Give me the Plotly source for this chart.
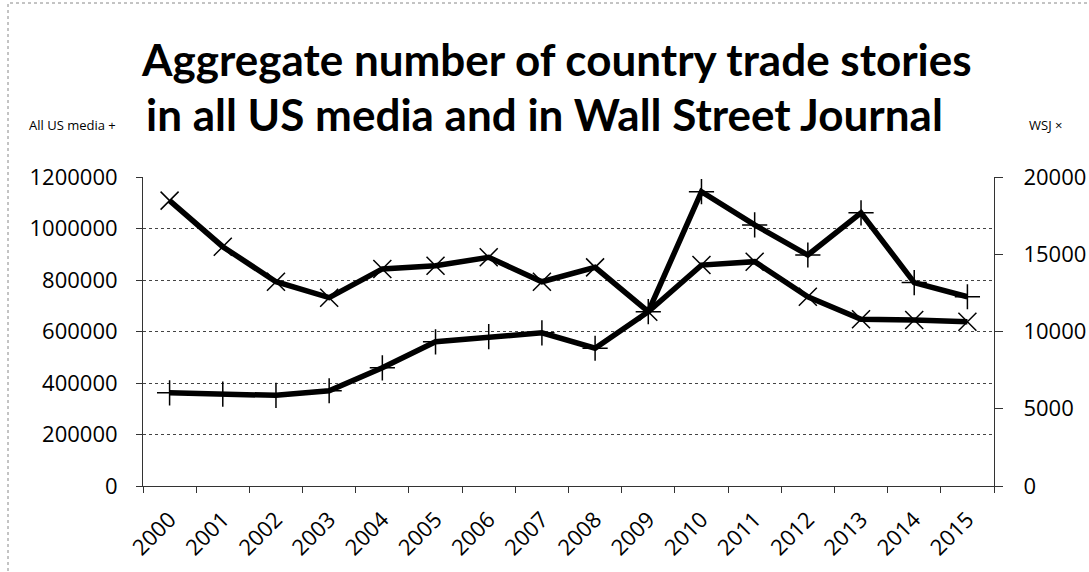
import plotly.graph_objects as go

years = ["2000", "2001", "2002", "2003", "2004", "2005", "2006", "2007",
         "2008", "2009", "2010", "2011", "2012", "2013", "2014", "2015"]
all_us_media = [362000, 357000, 352000, 370000, 459000, 560000, 580000, 595000,
                535000, 677000, 1143000, 1014000, 897000, 1061000, 790000, 735000]
wsj = [18470, 15490, 13220, 12190, 14050, 14260, 14800, 13220,
       14150, 11280, 14300, 14520, 12250, 10790, 10740, 10630]

left_ticks = [0, 200000, 400000, 600000, 800000, 1000000, 1200000]
right_ticks = [0, 5000, 10000, 15000, 20000]

title_lines = ["Aggregate number of country trade stories",
               "in all US media and in Wall Street Journal"]

W, H = 1089, 572
L, R, T, B = 143, 994, 177, 486   # plot area in pixels

def px(xp):
    return (xp - L) / (R - L)

def py(yp):
    return (B - yp) / (B - T)

fig = go.Figure()
fig.add_trace(go.Scatter(
    x=years, y=all_us_media, name="All US media", mode="lines+markers",
    line=dict(color="black", width=5.5),
    marker=dict(symbol="cross-thin-open", size=18, color="black",
                line=dict(color="black", width=1.5)),
    yaxis="y"))
fig.add_trace(go.Scatter(
    x=years, y=wsj, name="WSJ", mode="lines+markers",
    line=dict(color="black", width=5.5),
    marker=dict(symbol="x-thin-open", size=18, color="black",
                line=dict(color="black", width=1.5)),
    yaxis="y2"))

tick_font = dict(family="Open Sans", size=22, color="black")

fig.update_layout(
    width=W, height=H,
    margin=dict(l=L, r=W - R, t=T, b=H - B, autoexpand=False),
    paper_bgcolor="white", plot_bgcolor="white",
    showlegend=False,
    xaxis=dict(type="category", range=[-0.5, 15.5], tickangle=-45,
               tickfont=dict(family="Open Sans", size=22, color="black"),
               showline=True, linecolor="#333", linewidth=1,
               ticks="outside", tickson="boundaries", ticklen=6, tickcolor="#333",
               showgrid=False, zeroline=False, automargin=False,
               ticklabelstandoff=11),
    yaxis=dict(range=[0, 1200000], tickvals=left_ticks,
               ticktext=[str(v) for v in left_ticks], tickfont=tick_font,
               showline=True, linecolor="#333", linewidth=1,
               ticks="outside", ticklen=6, tickcolor="#333",
               showgrid=True, gridcolor="#444", griddash="dot", gridwidth=1,
               zeroline=False, ticklabelstandoff=14, automargin=False),
    yaxis2=dict(range=[0, 20000], tickvals=right_ticks,
                ticktext=[str(v) for v in right_ticks], tickfont=tick_font,
                overlaying="y", side="right",
                showline=True, linecolor="#333", linewidth=1,
                ticks="outside", ticklen=8, tickcolor="#333",
                showgrid=False, zeroline=False, ticklabelstandoff=16,
                automargin=False),
)

title_font = dict(family="Lato", size=44, color="black", weight="bold")
fig.add_annotation(text=title_lines[0], xref="paper", yref="paper",
                   x=px(556), y=py(87), xanchor="center", yanchor="bottom",
                   showarrow=False, font=title_font)
fig.add_annotation(text=title_lines[1], xref="paper", yref="paper",
                   x=px(544), y=py(142), xanchor="center", yanchor="bottom",
                   showarrow=False, font=title_font)
fig.add_annotation(text="All US media +", xref="paper", yref="paper",
                   x=px(27), y=py(125), xanchor="left", yanchor="middle",
                   showarrow=False, font=dict(family="Open Sans", size=13, color="black"))
fig.add_annotation(text="WSJ ×", xref="paper", yref="paper",
                   x=px(1027), y=py(125), xanchor="left", yanchor="middle",
                   showarrow=False, font=dict(family="Open Sans", size=13, color="black"))

fig.add_shape(type="rect", xref="paper", yref="paper",
              x0=px(8), x1=px(1100), y0=py(590), y1=py(3),
              line=dict(color="#888", width=1, dash="dot"))

fig.write_html("out.html", config={"displayModeBar": False},
               post_script="document.body.style.margin='0';document.body.style.overflow='hidden';")
